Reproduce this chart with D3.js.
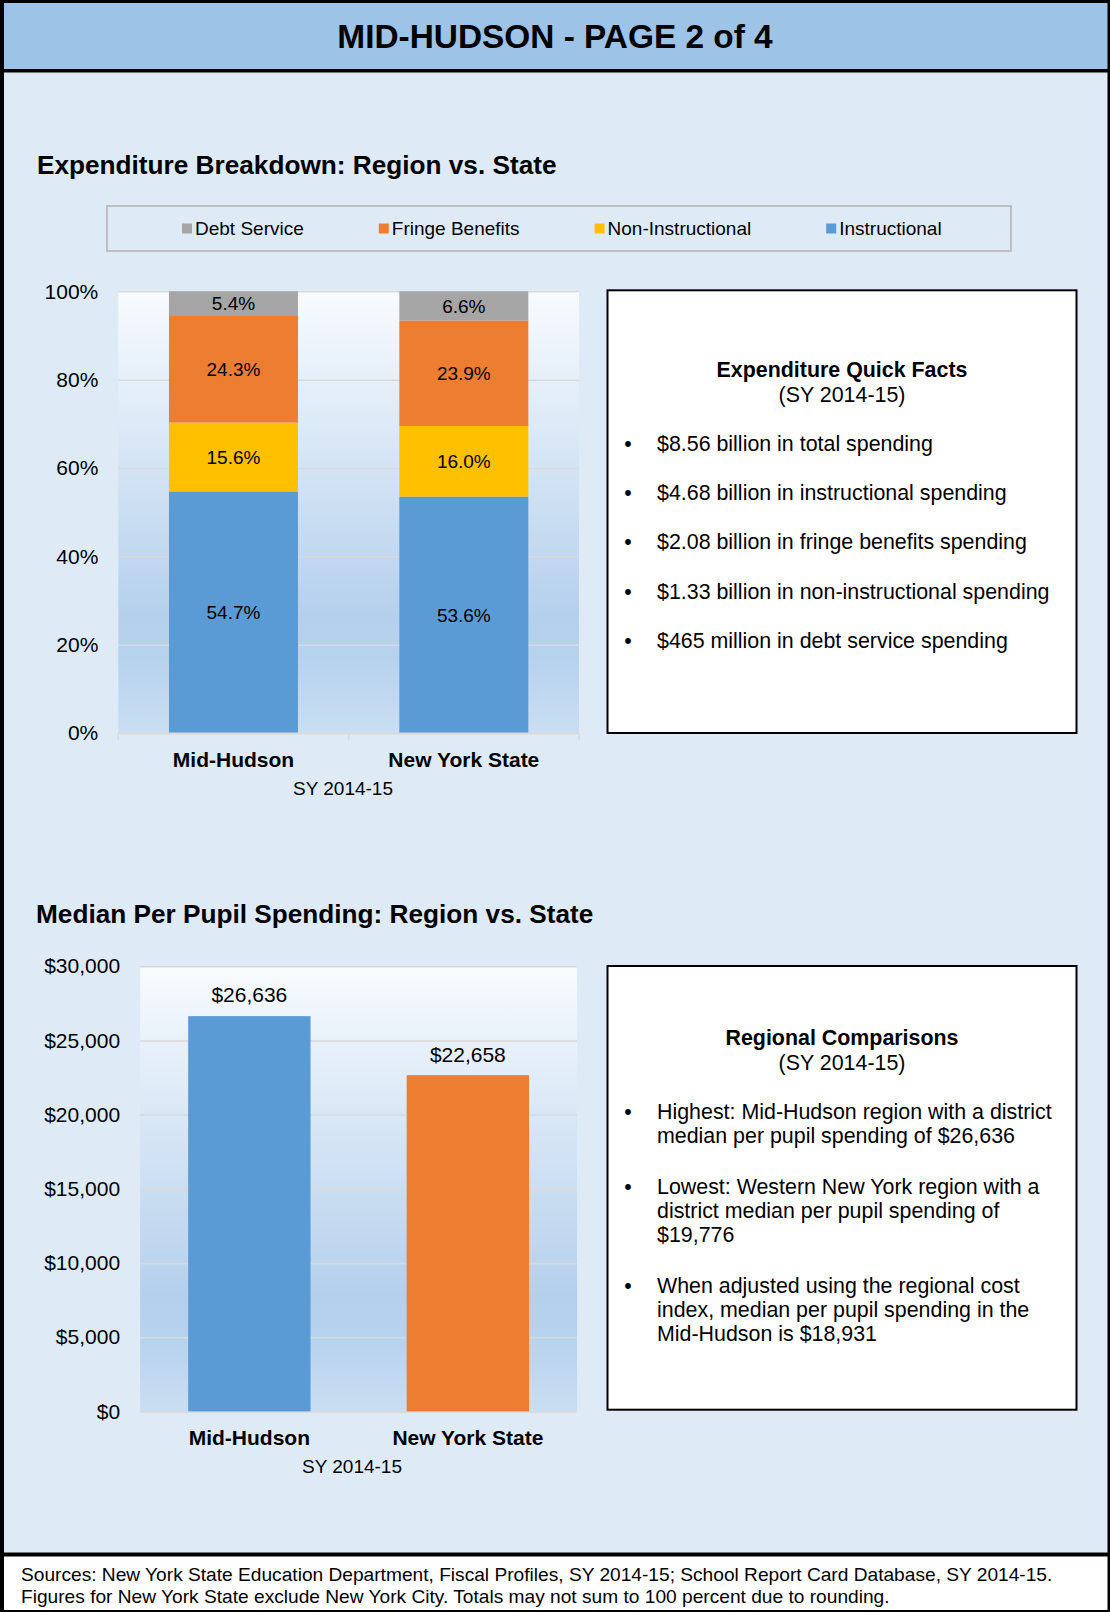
<!DOCTYPE html>
<html>
<head>
<meta charset="utf-8">
<script src="https://cdn.jsdelivr.net/npm/d3@7"></script>
<style>
  html, body { margin: 0; padding: 0; background: #fff; }
  svg { display: block; }
  text { font-family: "Liberation Sans", Arial, sans-serif; fill: #000; }
</style>
</head>
<body>
<svg id="page" width="1110" height="1612"></svg>
<script>
// ---------------- DATA ----------------
const pageTitle = "MID-HUDSON - PAGE 2 of 4";
const categories = ["Mid-Hudson", "New York State"];
const axisTitle = "SY 2014-15";

// Expenditure breakdown (percent of total), bottom to top of stack
const seriesNames = ["Instructional", "Non-Instructional", "Fringe Benefits", "Debt Service"];
const instructional = [54.7, 53.6];
const nonInstructional = [15.6, 16.0];
const fringeBenefits = [24.3, 23.9];
const debtService = [5.4, 6.6];
const seriesColors = ["#5B9BD5", "#FFC000", "#ED7D31", "#A5A5A5"];
const legendOrder = ["Debt Service", "Fringe Benefits", "Non-Instructional", "Instructional"];
const pctTicks = [0, 20, 40, 60, 80, 100];

// Median per pupil spending
const perPupil = [26636, 22658];
const perPupilColors = ["#5B9BD5", "#ED7D31"];
const dollarTicks = [0, 5000, 10000, 15000, 20000, 25000, 30000];

const quickFactsTitle = "Expenditure Quick Facts";
const quickFacts = [
  "$8.56 billion in total spending",
  "$4.68 billion in instructional spending",
  "$2.08 billion in fringe benefits spending",
  "$1.33 billion in non-instructional spending",
  "$465 million in debt service spending"
];
const comparisonsTitle = "Regional Comparisons";
const comparisons = [
  ["Highest: Mid-Hudson region with a district", "median per pupil spending of $26,636"],
  ["Lowest: Western New York region with a", "district median per pupil spending of", "$19,776"],
  ["When adjusted using the regional cost", "index, median per pupil spending in the", "Mid-Hudson is $18,931"]
];
const footerLines = [
  "Sources: New York State Education Department, Fiscal Profiles, SY 2014-15; School Report Card Database, SY 2014-15.",
  "Figures for New York State exclude New York City. Totals may not sum to 100 percent due to rounding."
];

// ---------------- PAGE ----------------
const svg = d3.select("#page");
const W = 1110, H = 1612;

const defs = svg.append("defs");
const grad = defs.append("linearGradient").attr("id", "plotGrad")
  .attr("x1", 0).attr("y1", 0).attr("x2", 0).attr("y2", 1);
[[0, "#F8FBFE"], [0.74, "#B5D0EC"], [0.83, "#B7D2ED"], [1, "#C9DEF2"]].forEach(([o, c]) =>
  grad.append("stop").attr("offset", o).attr("stop-color", c));

// frame
svg.append("rect").attr("x", 0).attr("y", 0).attr("width", W).attr("height", H).attr("fill", "#000");
svg.append("rect").attr("x", 4).attr("y", 3).attr("width", W - 6.5).attr("height", 66).attr("fill", "#9DC3E6");
svg.append("rect").attr("x", 4).attr("y", 72.5).attr("width", W - 6.5).attr("height", 1480).attr("fill", "#DEEBF7");
svg.append("rect").attr("x", 4).attr("y", 1556.5).attr("width", W - 6.5).attr("height", 53.5).attr("fill", "#fff");

svg.append("text").attr("x", W / 2).attr("y", 36.5).attr("dy", "0.35em")
  .attr("text-anchor", "middle").attr("font-size", 33.4).attr("font-weight", "bold").text(pageTitle);

// section titles
svg.append("text").attr("x", 37).attr("y", 165).attr("dy", "0.35em")
  .attr("font-size", 26.2).attr("font-weight", "bold").text("Expenditure Breakdown: Region vs. State");
svg.append("text").attr("x", 36).attr("y", 914).attr("dy", "0.35em")
  .attr("font-size", 26.2).attr("font-weight", "bold").text("Median Per Pupil Spending: Region vs. State");

// ---------------- LEGEND ----------------
svg.append("rect").attr("x", 107).attr("y", 206).attr("width", 904).attr("height", 45)
  .attr("fill", "none").attr("stroke", "#BFBFBF").attr("stroke-width", 2);
let lx = 182;
legendOrder.forEach(name => {
  const i = seriesNames.indexOf(name);
  svg.append("rect").attr("x", lx).attr("y", 223.5).attr("width", 10).attr("height", 10).attr("fill", seriesColors[i]);
  const t = svg.append("text").attr("x", lx + 13).attr("y", 228.5).attr("dy", "0.35em")
    .attr("font-size", 19).attr("fill", "#000").text(name);
  lx += 13 + t.node().getComputedTextLength() + 75;
});

// ---------------- CHART 1: 100% stacked ----------------
(function () {
  const left = 118.3, right = 579, top = 291.3, bottom = 733.2;
  const x = d3.scaleBand().domain(categories).range([left, right]).paddingInner(0.44).paddingOuter(0.22);
  const y = d3.scaleLinear().domain([0, 1]).range([bottom, top]);
  const g = svg.append("g");

  g.append("rect").attr("x", left).attr("y", top).attr("width", right - left).attr("height", bottom - top)
    .attr("fill", "url(#plotGrad)");

  const yAxis = d3.axisLeft(y).tickValues(pctTicks.map(d => d / 100)).tickFormat(d => Math.round(d * 100) + "%")
    .tickSize(-(right - left)).tickPadding(20);
  const ya = g.append("g").attr("transform", `translate(${left},0)`).call(yAxis);
  ya.select(".domain").remove();
  ya.selectAll(".tick line").attr("stroke", "#D9D9D9").attr("stroke-width", 1.5);
  ya.selectAll(".tick text").attr("font-size", 21).attr("fill", "#000").attr("font-family", "Liberation Sans, Arial, sans-serif");

  const rows = categories.map((c, i) => ({
    cat: c, "Instructional": instructional[i], "Non-Instructional": nonInstructional[i],
    "Fringe Benefits": fringeBenefits[i], "Debt Service": debtService[i]
  }));
  const stacked = d3.stack().keys(seriesNames).offset(d3.stackOffsetExpand)(rows);

  stacked.forEach((s, si) => {
    const sg = g.append("g");
    sg.selectAll("rect").data(s).join("rect")
      .attr("x", d => x(d.data.cat)).attr("width", x.bandwidth())
      .attr("y", d => y(d[1])).attr("height", d => y(d[0]) - y(d[1]))
      .attr("fill", seriesColors[si]);
    sg.selectAll("text").data(s).join("text")
      .attr("x", d => x(d.data.cat) + x.bandwidth() / 2)
      .attr("y", d => (y(d[0]) + y(d[1])) / 2).attr("dy", "0.35em")
      .attr("text-anchor", "middle").attr("font-size", 19).attr("fill", "#111")
      .text(d => d.data[s.key].toFixed(1) + "%");
  });

  // category axis
  const xAxis = d3.axisBottom(x).tickSize(0).tickPadding(0);
  const xa = g.append("g").attr("transform", `translate(0,${bottom})`).call(xAxis);
  xa.select(".domain").attr("stroke", "#D9D9D9").attr("stroke-width", 1.5).attr("d", `M${left},0H${right}`);
  xa.selectAll(".tick text").attr("font-size", 21).attr("font-weight", "bold").attr("fill", "#000")
    .attr("font-family", "Liberation Sans, Arial, sans-serif").attr("y", 26.5).attr("dy", "0.35em");
  const bounds = [left, left + x.step(), right];
  xa.selectAll(".bt").data(bounds).join("line").attr("class", "bt")
    .attr("x1", d => d).attr("x2", d => d).attr("y1", 0).attr("y2", 7)
    .attr("stroke", "#D9D9D9").attr("stroke-width", 1.5);

  g.append("text").attr("x", 343).attr("y", 788).attr("dy", "0.35em").attr("text-anchor", "middle")
    .attr("font-size", 19).text(axisTitle);
})();

// ---------------- CHART 2: per pupil ----------------
(function () {
  const left = 140.1, right = 577.1, top = 966.2, bottom = 1411.4;
  const x = d3.scaleBand().domain(categories).range([left, right]).paddingInner(0.44).paddingOuter(0.22);
  const y = d3.scaleLinear().domain([0, 30000]).range([bottom, top]);
  const g = svg.append("g");

  g.append("rect").attr("x", left).attr("y", top).attr("width", right - left).attr("height", bottom - top)
    .attr("fill", "url(#plotGrad)");

  const yAxis = d3.axisLeft(y).tickValues(dollarTicks).tickFormat(d3.format("$,"))
    .tickSize(-(right - left)).tickPadding(20);
  const ya = g.append("g").attr("transform", `translate(${left},0)`).call(yAxis);
  ya.select(".domain").remove();
  ya.selectAll(".tick line").attr("stroke", "#D9D9D9").attr("stroke-width", 1.5);
  ya.selectAll(".tick text").attr("font-size", 21).attr("fill", "#000").attr("font-family", "Liberation Sans, Arial, sans-serif");

  g.selectAll(".bar").data(perPupil).join("rect").attr("class", "bar")
    .attr("x", (d, i) => x(categories[i])).attr("width", x.bandwidth())
    .attr("y", d => y(d)).attr("height", d => bottom - y(d))
    .attr("fill", (d, i) => perPupilColors[i]);
  g.selectAll(".lbl").data(perPupil).join("text").attr("class", "lbl")
    .attr("x", (d, i) => x(categories[i]) + x.bandwidth() / 2)
    .attr("y", d => y(d) - 21).attr("dy", "0.35em").attr("text-anchor", "middle")
    .attr("font-size", 21).text(d => d3.format("$,")(d));

  const xAxis = d3.axisBottom(x).tickSize(0).tickPadding(0);
  const xa = g.append("g").attr("transform", `translate(0,${bottom})`).call(xAxis);
  xa.select(".domain").remove();
  xa.selectAll(".tick text").attr("font-size", 21).attr("font-weight", "bold").attr("fill", "#000")
    .attr("font-family", "Liberation Sans, Arial, sans-serif").attr("y", 26).attr("dy", "0.35em");

  g.append("text").attr("x", 352).attr("y", 1466.5).attr("dy", "0.35em").attr("text-anchor", "middle")
    .attr("font-size", 19).text(axisTitle);
})();

// ---------------- TEXT BOXES ----------------
function box(y0, y1, title, titleY, paragraphs, firstY, lineH, paraGap) {
  svg.append("rect").attr("x", 607.5).attr("y", y0).attr("width", 469).attr("height", y1 - y0)
    .attr("fill", "#fff").attr("stroke", "#000").attr("stroke-width", 2);
  svg.append("text").attr("x", 842).attr("y", titleY).attr("dy", "0.35em").attr("text-anchor", "middle")
    .attr("font-size", 21.4).attr("font-weight", "bold").text(title);
  svg.append("text").attr("x", 842).attr("y", titleY + 25).attr("dy", "0.35em").attr("text-anchor", "middle")
    .attr("font-size", 21.4).text("(SY 2014-15)");
  let yy = firstY;
  paragraphs.forEach(lines => {
    svg.append("text").attr("x", 628).attr("y", yy).attr("dy", "0.35em").attr("text-anchor", "middle")
      .attr("font-size", 21.4).text("•");
    lines.forEach((ln, j) => {
      svg.append("text").attr("x", 657).attr("y", yy + j * lineH).attr("dy", "0.35em")
        .attr("font-size", 21.4).text(ln);
    });
    yy += (lines.length - 1) * lineH + paraGap;
  });
}
box(290.3, 733, quickFactsTitle, 370, quickFacts.map(d => [d]), 443.3, 24.2, 49.3);
box(966, 1409.7, comparisonsTitle, 1038, comparisons, 1111.5, 24.2, 50.5);

// ---------------- FOOTER ----------------
footerLines.forEach((t, i) => {
  svg.append("text").attr("x", 21).attr("y", 1574 + i * 22).attr("dy", "0.35em")
    .attr("font-size", 19.15).text(t);
});
</script>
</body>
</html>
